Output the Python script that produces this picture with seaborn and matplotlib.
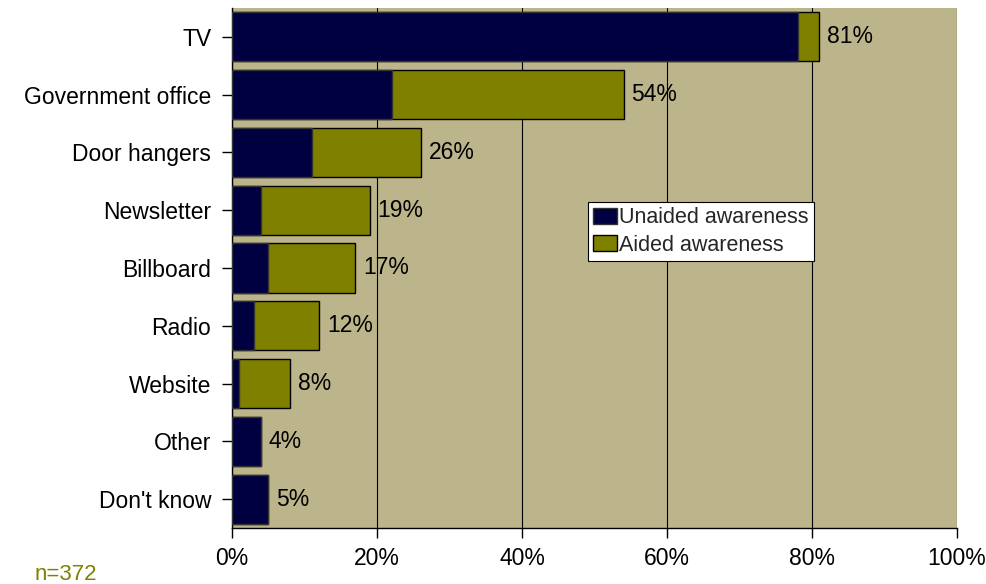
import matplotlib
matplotlib.use("Agg")
import matplotlib.pyplot as plt
import seaborn as sns
import pandas as pd
from matplotlib.patches import Patch
from matplotlib.ticker import PercentFormatter

categories = ["TV", "Government office", "Door hangers", "Newsletter", "Billboard",
              "Radio", "Website", "Other", "Don't know"]
unaided = [78, 22, 11, 4, 5, 3, 1, 4, 5]
total = [81, 54, 26, 19, 17, 12, 8, 4, 5]
aided = [t - u for t, u in zip(total, unaided)]

df = pd.DataFrame({"category": categories, "unaided": unaided, "aided": aided, "total": total})

sns.set_theme(style="white")
plt.rcParams['font.family'] = ['Liberation Sans', 'DejaVu Sans']

NAVY = "#000040"
OLIVE = "#808000"
BG = "#BCB48A"
FS = 16.5

fig = plt.figure(figsize=(9.86, 5.84), dpi=100)
ax = fig.add_axes([232/986, 1 - 528/584, (957-232)/986, (528-8)/584])
ax.set_facecolor(BG)

sns.barplot(data=df, y="category", x="total", color=OLIVE, orient="h", width=0.85,
            edgecolor="black", linewidth=1, saturation=1, ax=ax, zorder=3)
sns.barplot(data=df, y="category", x="unaided", color=NAVY, orient="h", width=0.85,
            edgecolor="#333333", linewidth=1, saturation=1, ax=ax, zorder=4)

for i, t in enumerate(total):
    ax.text(t + 1.1, i, f"{t}%", va="center", ha="left", fontsize=FS, color="black", zorder=5)

ax.set_xlim(0, 100)
ax.set_ylim(len(categories) - 0.5, -0.5)
ax.set_xticks([0, 20, 40, 60, 80, 100])
ax.xaxis.set_major_formatter(PercentFormatter(decimals=0))
ax.grid(axis="x", color="black", linewidth=0.8, zorder=0)
ax.set_axisbelow(True)
ax.set_xlabel("")
ax.set_ylabel("")
ax.tick_params(axis="both", labelsize=FS, colors="black", length=7, width=1,
               direction="out", bottom=True, left=True)
ax.tick_params(axis="x", pad=7)
ax.tick_params(axis="y", pad=8)
for s in ax.spines.values():
    s.set_color("black")
    s.set_linewidth(1)
ax.spines["top"].set_visible(False)
ax.spines["right"].set_visible(False)

handles = [Patch(facecolor=NAVY, edgecolor="#333333", label="Unaided awareness"),
           Patch(facecolor=OLIVE, edgecolor="black", label="Aided awareness")]
leg = ax.legend(handles=handles, loc="upper left", bbox_to_anchor=((588-232)/725, (528-202)/520),
                fontsize=15.5, frameon=True, fancybox=False, framealpha=1,
                edgecolor="black", borderpad=0.25, handlelength=1.1, handleheight=0.75,
                handletextpad=0.1, labelspacing=0.3, borderaxespad=0)
leg.get_frame().set_linewidth(0.8)

fig.text(35/986, 1 - 574/584, "n=372", color=OLIVE, fontsize=16, va="center", ha="left")

fig.savefig("out.png", dpi=100, facecolor="white")
